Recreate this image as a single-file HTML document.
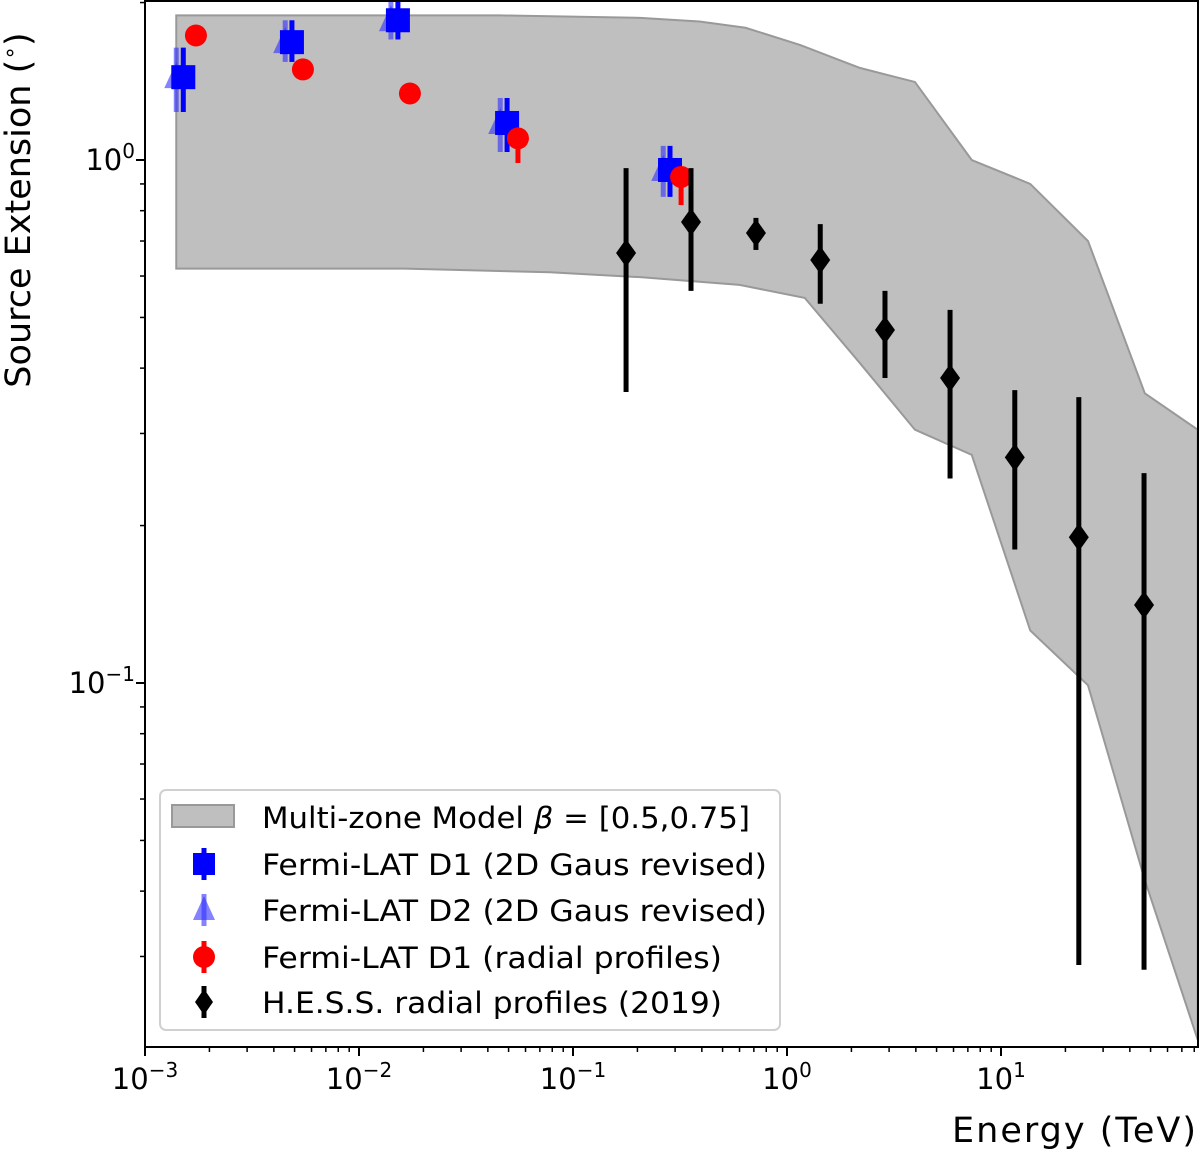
<!DOCTYPE html>
<html><head><meta charset="utf-8"><style>
body{margin:0;background:#fff;}
svg{display:block;font-family:"DejaVu Sans","Liberation Sans",sans-serif;}
</style></head><body>
<svg id="chart" width="1200" height="1150"></svg>
<script>
// Data
const bandE = [0.0014,0.0456,0.206,0.39,0.64,1.15,2.19,3.96,7.3,13.7,25.5,47,83];
const bandUpper = [1.89,1.89,1.87,1.84,1.79,1.66,1.50,1.41,1.0,0.90,0.70,0.358,0.305];
const bandLowerE = [0.0014,0.0164,0.078,0.206,0.60,1.21,2.19,3.96,7.3,13.7,25.5,47,83];
const bandLower = [0.62,0.62,0.61,0.597,0.577,0.545,0.409,0.305,0.273,0.126,0.099,0.042,0.0208];
const d1E = [0.00151,0.00486,0.0152,0.0492,0.284];
const d1V = [1.44,1.68,1.85,1.177,0.957];
const d1Lo = [1.235,1.54,1.70,1.036,0.85];
const d1Hi = [1.64,1.85,2.02,1.314,1.064];
const d2E = [0.0014,0.00452,0.0141,0.0457,0.264];
const d2V = [1.44,1.68,1.85,1.177,0.957];
const d2Lo = [1.235,1.54,1.70,1.036,0.85];
const d2Hi = [1.64,1.85,2.02,1.314,1.064];
const redE = [0.00173,0.00547,0.0173,0.0553,0.320];
const redV = [1.73,1.49,1.34,1.10,0.928];
const redLo = [1.73,1.49,1.34,0.987,0.82];
const redHi = [1.73,1.49,1.34,1.10,0.928];
const hessE = [0.177,0.356,0.716,1.43,2.87,5.78,11.6,23.1,46.6];
const hessV = [0.664,0.761,0.725,0.644,0.473,0.383,0.270,0.190,0.141];
const hessLo = [0.36,0.562,0.673,0.531,0.383,0.246,0.18,0.0289,0.0283];
const hessHi = [0.965,0.965,0.775,0.754,0.562,0.517,0.363,0.352,0.252];
const xTicks = [-3,-2,-1,0,1];
const yTicks = [0,-1];

const NS="http://www.w3.org/2000/svg";
const svg=document.getElementById('chart');
const L=145,R=1198,T=1,B=1047;
const X=e=>L+(Math.log10(e)+3)*214;
const Y=v=>160-Math.log10(v)*523;
function mk(tag,attrs,parent){const el=document.createElementNS(NS,tag);for(const k in attrs)el.setAttribute(k,attrs[k]);(parent||svg).appendChild(el);return el;}

// band
let pts=bandE.map((e,i)=>X(e)+','+Y(bandUpper[i]));
for(let i=bandLowerE.length-1;i>=0;i--)pts.push(X(bandLowerE[i])+','+Y(bandLower[i]));
const band=mk('polygon',{points:pts.join(' '),fill:'#bfbfbf',stroke:'#999',"stroke-width":2});



function errbar(x,lo,hi,color,w,op){const l=mk('line',{x1:x,x2:x,y1:Y(lo),y2:Y(hi),stroke:color,"stroke-width":w,opacity:op||1});return l;}
// D2 triangles
d2E.forEach((e,i)=>{const x=X(e),y=Y(d2V[i]);
 const g=mk('g',{});
 
 
 mk('line',{x1:x,x2:x,y1:Y(d2Lo[i]),y2:Y(d2Hi[i]),stroke:'#3030ff',"stroke-width":5,opacity:0.6},g);
 mk('polygon',{points:`${x},${y-15} ${x-12},${y+11} ${x+12},${y+11}`,fill:'#3030ff',opacity:0.6},g);});
// D1 squares
d1E.forEach((e,i)=>{const x=X(e),y=Y(d1V[i]);
 errbar(x,d1Lo[i],d1Hi[i],'#0000ff',5);
 const r=mk('rect',{x:x-12,y:y-12,width:24,height:24,fill:'#0000ff'});
 
 });
// red
redE.forEach((e,i)=>{const x=X(e),y=Y(redV[i]);
 errbar(x,redLo[i],redHi[i],'#ff0000',5);
 const c=mk('circle',{cx:x,cy:y,r:11,fill:'#ff0000'});
 
 });
// hess
hessE.forEach((e,i)=>{const x=X(e),y=Y(hessV[i]);
 errbar(x,hessLo[i],hessHi[i],'#000',5);
 const d=mk('polygon',{points:`${x},${y-14} ${x+10},${y} ${x},${y+14} ${x-10},${y}`,fill:'#000'});
 
 });

// axes frame
const fr=mk('rect',{x:L,y:T,width:R-L,height:B-T,fill:'none',stroke:'#000',"stroke-width":2});


// x ticks
for(let d=-3;d<=1;d++){for(let m=1;m<10;m++){const x=X(m*Math.pow(10,d));if(x>R)break;
 mk('line',{x1:x,x2:x,y1:B,y2:B+(m==1?9:5),stroke:'#000',"stroke-width":m==1?2:1.5});}}
xTicks.forEach(p=>{const t=mk('text',{x:X(Math.pow(10,p)),y:B+42,"text-anchor":"middle","font-size":29});
 
 
 t.innerHTML=`10<tspan dy="-12" font-size="20">${p<0?'\u2212'+(-p):p}</tspan>`;});
// y ticks
for(let d=-2;d<=0;d++){for(let m=1;m<10;m++){const v=m*Math.pow(10,d),y=Y(v);if(y<T||y>B)continue;
 mk('line',{x1:L,x2:L-(m==1?9:5),y1:y,y2:y,stroke:'#000',"stroke-width":m==1?2:1.5});}}
yTicks.forEach(p=>{const t=mk('text',{x:L-10,y:Y(Math.pow(10,p))+10,"text-anchor":"end","font-size":29});
 
 
 t.innerHTML=`10<tspan dy="-12" font-size="20">${p<0?'\u2212'+(-p):p}</tspan>`;});
// axis titles
const xt=mk('text',{x:1196,y:1142,"text-anchor":"end","font-size":35,textLength:244});


xt.textContent='Energy (TeV)';
const yt=mk('text',{x:0,y:0,"text-anchor":"middle","font-size":35,transform:'translate(30,210) rotate(-90)'});


yt.innerHTML='Source Extension (<tspan dy="-13" font-size="22">\u2218</tspan><tspan dy="13">)</tspan>';

// legend
const lg=mk('g',{});


mk('rect',{x:160,y:790,width:620,height:240,rx:6,fill:'#fff',stroke:'#ccc',"stroke-width":2,opacity:0.9},lg);
const rows=[817,864,910,957,1002];
const labels=['Multi-zone Model <tspan font-style="italic">β</tspan> = [0.5,0.75]','Fermi-LAT D1 (2D Gaus revised)','Fermi-LAT D2 (2D Gaus revised)','Fermi-LAT D1 (radial profiles)','H.E.S.S. radial profiles (2019)'];
const widths=[488,505,505,460,460];
mk('rect',{x:172,y:805,width:62,height:22,fill:'#bfbfbf',stroke:'#999',"stroke-width":2},lg);
const cx=204;
mk('line',{x1:cx,x2:cx,y1:864-16,y2:864+16,stroke:'#00f',"stroke-width":5},lg);
mk('rect',{x:cx-11,y:864-11,width:22,height:22,fill:'#00f'},lg);
mk('line',{x1:cx,x2:cx,y1:910-16,y2:910+16,stroke:'#3030ff',"stroke-width":5,opacity:0.6},lg);
mk('polygon',{points:`${cx},${910-14} ${cx-11},${910+10} ${cx+11},${910+10}`,fill:'#3030ff',opacity:0.6},lg);
mk('line',{x1:cx,x2:cx,y1:957-16,y2:957+16,stroke:'#f00',"stroke-width":5},lg);
mk('circle',{cx:cx,cy:957,r:11,fill:'#f00'},lg);
mk('line',{x1:cx,x2:cx,y1:1002-16,y2:1002+16,stroke:'#000',"stroke-width":5},lg);
mk('polygon',{points:`${cx},${1002-13} ${cx+9},1002 ${cx},${1002+13} ${cx-9},1002`,fill:'#000'},lg);
rows.forEach((y,i)=>{const t=mk('text',{x:262,y:y+11,"font-size":29,textLength:widths[i],lengthAdjust:'spacingAndGlyphs'},lg);
 
 
 t.innerHTML=labels[i];});
</script>
</body></html>
